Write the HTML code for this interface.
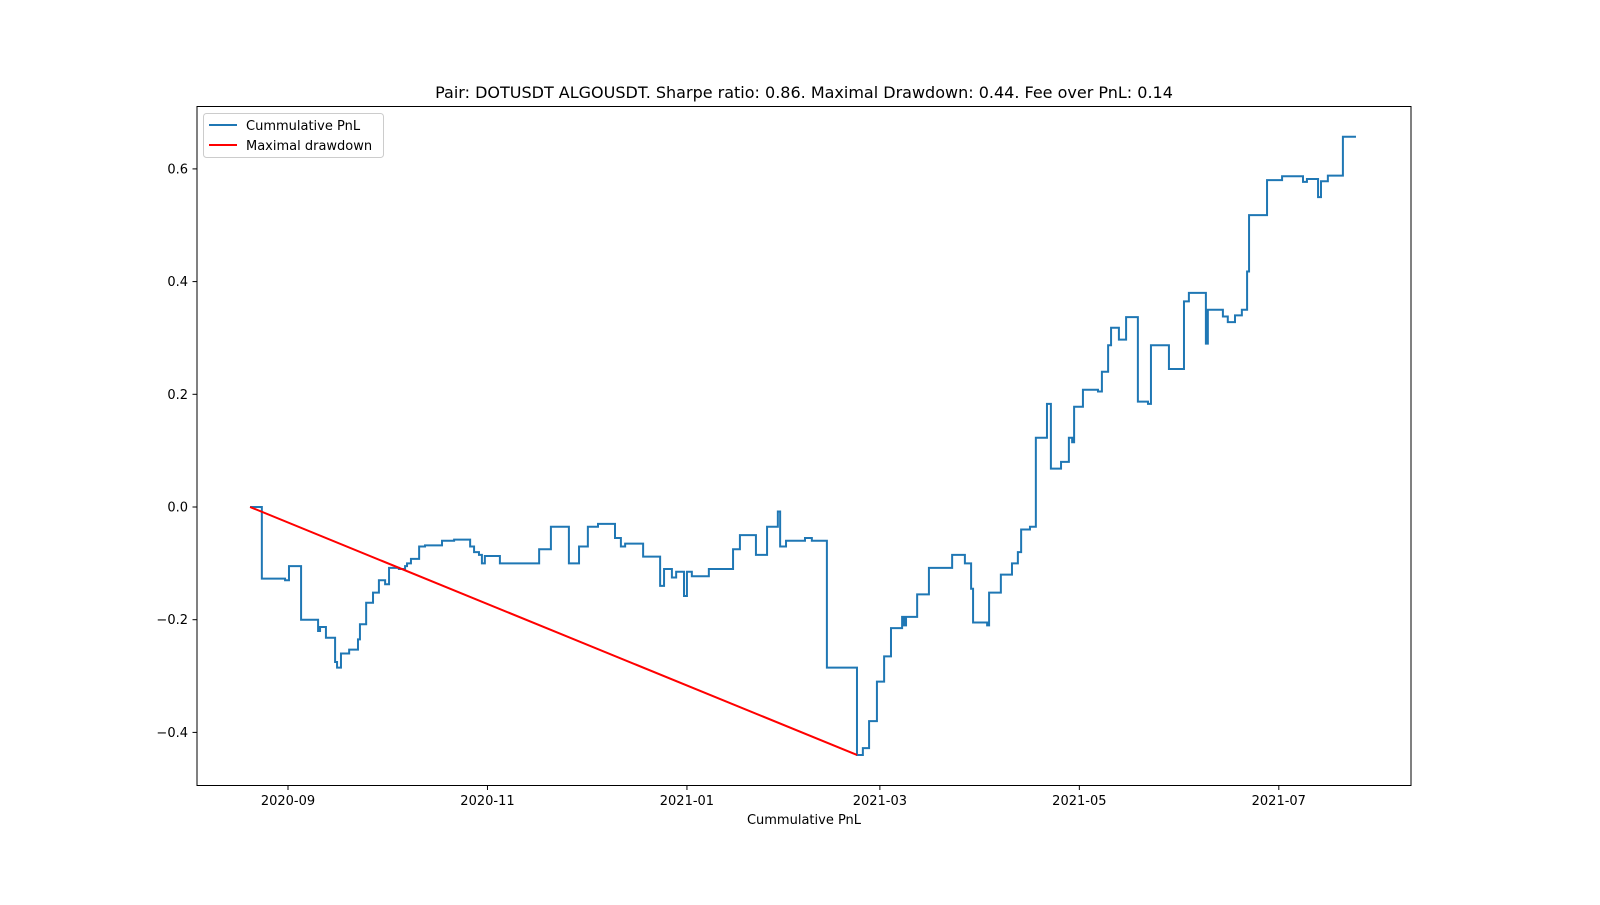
<!DOCTYPE html>
<html><head><meta charset="utf-8"><style>
body{margin:0;background:#fff;}
svg text{font-family:"DejaVu Sans","Liberation Sans",sans-serif;fill:#000;}
</style></head><body>
<svg id="chart" width="1600" height="900" xmlns="http://www.w3.org/2000/svg">
<text x="804" y="98" font-size="16" text-anchor="middle">Pair: DOTUSDT ALGOUSDT. Sharpe ratio: 0.86. Maximal Drawdown: 0.44. Fee over PnL: 0.14</text>
<g id="plot"></g>
<rect x="197" y="106.5" width="1214" height="679" fill="none" stroke="#000" stroke-width="1"/>
<text x="804" y="824" font-size="13" text-anchor="middle">Cummulative PnL</text>
<g>
<rect x="203.5" y="113.5" width="180" height="44" rx="3" fill="#fff" fill-opacity="0.8" stroke="#ccc"/>
<line x1="209" y1="125" x2="237" y2="125" stroke="#1f77b4" stroke-width="2"/>
<text x="246" y="130" font-size="13">Cummulative PnL</text>
<line x1="209" y1="145" x2="237" y2="145" stroke="red" stroke-width="2"/>
<text x="246" y="150" font-size="13">Maximal drawdown</text>
</g>
</svg>
<script>
const days=[-11.6,-8.0,-0.9,0.3,4.0,9.2,9.8,11.6,14.4,15.0,16.2,18.7,21.4,22.0,23.9,26.0,27.8,29.7,30.9,33.9,35.8,36.4,37.6,40.1,41.9,47.1,50.8,55.7,56.9,58.4,59.3,60.2,64.8,76.8,80.4,85.9,89.0,91.7,94.8,100.0,101.8,103.1,108.6,113.8,115.0,117.4,118.7,121.1,122.0,123.5,128.7,136.1,138.2,143.1,146.5,149.8,150.5,152.3,158.1,160.2,164.8,174.0,175.8,177.7,180.1,182.3,184.4,187.8,188.4,189.0,192.4,196.0,203.1,207.0,208.9,209.5,213.8,214.4,218.0,221.4,223.2,224.2,226.9,228.7,232.1,233.3,236.4,238.8,239.8,240.4,243.1,247.7,248.9,250.8,251.7,254.1,256.3,259.9,263.0,263.9,269.4,274.0,275.5,280.7,281.3,285.9,287.4,289.6,291.7,293.3,293.9,299.4,304.0,310.4,311.6,315.0,315.9,318.0,322.6,326.6];
const pnl=[0.0,-0.127,-0.13,-0.105,-0.2,-0.22,-0.213,-0.232,-0.275,-0.285,-0.26,-0.253,-0.235,-0.208,-0.17,-0.152,-0.13,-0.137,-0.108,-0.11,-0.105,-0.1,-0.092,-0.07,-0.068,-0.06,-0.058,-0.07,-0.08,-0.085,-0.1,-0.087,-0.1,-0.075,-0.035,-0.1,-0.07,-0.035,-0.03,-0.055,-0.07,-0.065,-0.088,-0.14,-0.11,-0.125,-0.115,-0.158,-0.115,-0.123,-0.11,-0.075,-0.05,-0.085,-0.035,-0.008,-0.07,-0.06,-0.055,-0.06,-0.285,-0.44,-0.428,-0.38,-0.31,-0.265,-0.215,-0.195,-0.21,-0.195,-0.155,-0.108,-0.085,-0.1,-0.145,-0.205,-0.21,-0.152,-0.12,-0.1,-0.08,-0.04,-0.035,0.123,0.183,0.068,0.08,0.123,0.115,0.178,0.208,0.205,0.24,0.287,0.318,0.297,0.337,0.187,0.183,0.287,0.245,0.365,0.38,0.29,0.35,0.338,0.328,0.34,0.35,0.418,0.518,0.58,0.587,0.577,0.582,0.55,0.578,0.588,0.657,0.657];
const ddDays=[-11.6,174.0];
const ddVals=[0.0,-0.44];
const xTickDays=[0,61,122,181,242,303];
const xTickLabels=["2020-09","2020-11","2021-01","2021-03","2021-05","2021-07"];
const yTicks=[-0.4,-0.2,0.0,0.2,0.4,0.6];
const yTickLabels=["\u22120.4","\u22120.2","0.0","0.2","0.4","0.6"];
const NS="http://www.w3.org/2000/svg";
const X=d=>288+d*3.27, Y=v=>507-v*563.5;
const g=document.getElementById('plot');
function mk(t,a){const e=document.createElementNS(NS,t);for(const k in a)e.setAttribute(k,a[k]);g.appendChild(e);return e;}
xTickDays.forEach((d,i)=>{
 const l=mk('line',{x1:X(d),x2:X(d),y1:785.5,y2:790,stroke:'#000'});
 
 
 const t=mk('text',{x:X(d),y:805,'font-size':13,'text-anchor':'middle'});t.textContent=xTickLabels[i];
 
 
});
yTicks.forEach((v,i)=>{
 const l=mk('line',{x1:192.5,x2:197,y1:Y(v),y2:Y(v),stroke:'#000'});
 
 
 const t=mk('text',{x:188,y:Y(v)+4.5,'font-size':13,'text-anchor':'end'});t.textContent=yTickLabels[i];
 
 
});
let p='M'+X(days[0])+','+Y(pnl[0]);
for(let i=1;i<days.length;i++){p+=' H'+X(days[i])+' V'+Y(pnl[i]);}
const line=mk('path',{d:p,fill:'none',stroke:'#1f77b4','stroke-width':2});


const dd=mk('line',{x1:X(ddDays[0]),y1:Y(ddVals[0]),x2:X(ddDays[1]),y2:Y(ddVals[1]),stroke:'red','stroke-width':2});


</script>
</body></html>
